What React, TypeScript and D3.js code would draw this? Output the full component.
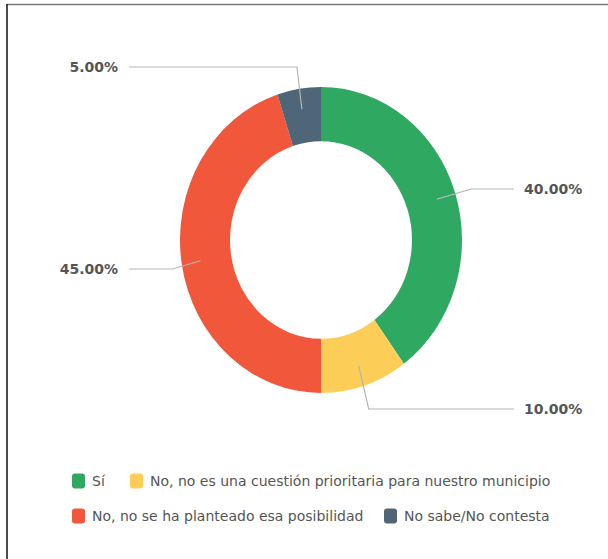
import React from "react";
import * as d3 from "d3";

const categories = [
  "Sí",
  "No, no es una cuestión prioritaria para nuestro municipio",
  "No, no se ha planteado esa posibilidad",
  "No sabe/No contesta",
];
const values = [40, 10, 45, 5];
const labels = ["40.00%", "10.00%", "45.00%", "5.00%"];
const colors = ["#2fa862", "#fccd57", "#f1573a", "#4f6678"];

// label layout (text row and elbow offset)
const labelRowY = [189, 409, 269, 67];
const elbowDx = [34, 10, -28, -5];

const W = 608;
const H = 559;
const cx = 321;
const cy = 240;
const rOuter = 141;
const rInner = 91;
const yStretch = 1.085;
const anchorR = 122;

export default function App() {
  const pie = d3
    .pie<number>()
    .sort(null)
    .value((d) => d)(values);
  const arc = d3.arc<d3.PieArcDatum<number>>().innerRadius(rInner).outerRadius(rOuter);

  const font = "'DejaVu Sans', sans-serif";

  const legendRows = [
    [0, 1],
    [2, 3],
  ];
  const legendX = [[72, 130], [72, 384]];
  const legendY = [481, 516];

  return (
    <svg
      width={W}
      height={H}
      style={{ position: "absolute", left: 0, top: 0, background: "#fff" }}
    >
      <rect x={0} y={0} width={W} height={H} fill="#fff" />
      <line x1={7} x2={W} y1={4.5} y2={4.5} stroke="#777" strokeWidth={1.5} />
      <line x1={7} x2={7} y1={4} y2={H} stroke="#111" strokeWidth={1.5} />

      <g transform={`translate(${cx},${cy}) scale(1,${yStretch})`}>
        {pie.map((p, i) => (
          <path key={i} d={arc(p) as string} fill={colors[i]} />
        ))}
      </g>

      {pie.map((p, i) => {
        const a = (p.startAngle + p.endAngle) / 2;
        const ax = cx + Math.sin(a) * anchorR;
        const ay = cy - Math.cos(a) * anchorR * yStretch;
        const right = Math.sin(a) > 0 && i < 2;
        const ex = ax + elbowDx[i];
        const ey = labelRowY[i];
        const lx = right ? 514 : 129;
        const tx = right ? 524 : 118;
        return (
          <g key={i}>
            <polyline
              points={`${ax},${ay} ${ex},${ey} ${lx},${ey}`}
              fill="none"
              stroke="#b5b5b5"
              strokeWidth={1.2}
            />
            <text
              x={tx}
              y={ey}
              dy="0.36em"
              textAnchor={right ? "start" : "end"}
              fontFamily={font}
              fontWeight="bold"
              fontSize={14}
              fill="#555"
            >
              {labels[i]}
            </text>
          </g>
        );
      })}

      {legendRows.map((row, r) =>
        row.map((idx, k) => (
          <g key={`${r}-${k}`} transform={`translate(${legendX[r][k]},${legendY[r]})`}>
            <rect x={0} y={-7.5} width={13} height={15} rx={3} fill={colors[idx]} />
            <text
              x={20}
              y={0}
              dy="0.36em"
              fontFamily={font}
              fontSize={14}
              fill="#555"
            >
              {categories[idx]}
            </text>
          </g>
        ))
      )}
    </svg>
  );
}
